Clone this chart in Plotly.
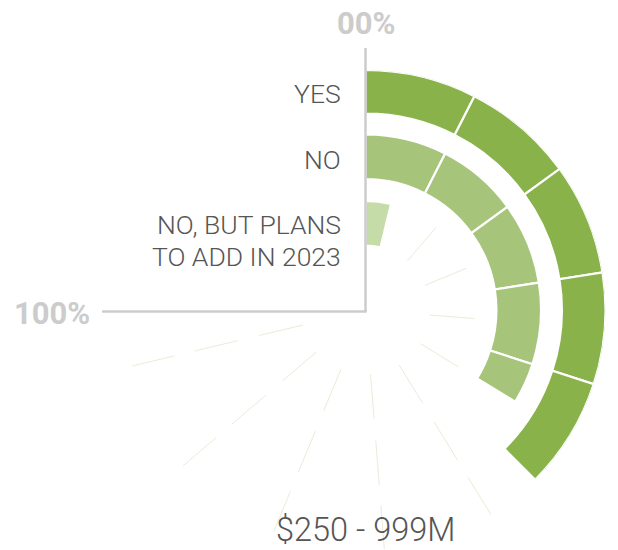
import plotly.graph_objects as go

# ---------------- data ----------------
categories = ["YES", "NO", "NO, BUT PLANS<br>TO ADD IN 2023"]
values = [50, 45, 5]            # percent of respondents
segment_step = 10               # bars are split every 10 %
spoke_ticks = [5, 15, 25, 35, 45, 55, 65, 75, 85, 95]
start_label = "00%"
end_label = "100%"
title_text = "$250 - 999M"

# ---------------- styling ----------------
OFF = 8                         # page body margin
W, H = 618 - OFF, 550 - OFF
SPAN_DEG = 270.0                # 100 % == 270 degrees (clockwise from top)
colors = ["#8ab24b", "#a6c47a", "#c5dba8"]
ring_base = [198, 132, 65]      # inner radius of each ring (radial units)
ring_thick = [44, 45, 45]
R_MAX = 242
CX, CY, RPX = 365.5, 310.0, 240.0   # polar centre and radius, page pixels


def deg(p):
    return p * SPAN_DEG / 100.0


def px_x(x):
    return (x - OFF) / W


def px_y(y):
    return 1 - (y - OFF) / H


fig = go.Figure()

# faint background spokes in each ring (only visible where the ring is empty)
for base, th, v in zip(ring_base, ring_thick, values):
    th_list, r_list = [], []
    for t in spoke_ticks:
        if t <= v:
            continue
        th_list += [deg(t), deg(t), None]
        r_list += [base, base + th, None]
    fig.add_trace(go.Scatterpolar(
        r=r_list, theta=th_list, mode="lines",
        line=dict(color="#ecead8", width=1),
        hoverinfo="skip", showlegend=False, connectgaps=False))

# segmented radial bars
for cat, v, col, base, th in zip(categories, values, colors, ring_base, ring_thick):
    thetas, widths = [], []
    s = 0
    while s < v - 1e-9:
        w = min(segment_step, v - s)
        thetas.append(deg(s + w / 2))
        widths.append(deg(w))
        s += segment_step
    fig.add_trace(go.Barpolar(
        r=[th] * len(thetas), base=[base] * len(thetas),
        theta=thetas, width=widths,
        marker=dict(color=col, line=dict(color="white", width=2.2)),
        name=cat.replace("<br>", " "), showlegend=False,
        hovertemplate=f"{cat.replace('<br>', ' ')}: {v}%<extra></extra>"))

fig.update_layout(
    width=W, height=H,
    margin=dict(l=0, r=0, t=0, b=0),
    paper_bgcolor="white",
    plot_bgcolor="white",
    polar=dict(
        domain=dict(x=[px_x(CX - RPX), px_x(CX + RPX)],
                    y=[max(0, px_y(CY + RPX)), px_y(CY - RPX)]),
        bgcolor="rgba(0,0,0,0)",
        hole=0,
        bargap=0,
        radialaxis=dict(visible=False, range=[0, R_MAX]),
        angularaxis=dict(rotation=90, direction="clockwise",
                         showgrid=False, showticklabels=False,
                         showline=False, ticks=""),
    ),
    font=dict(family="Roboto", color="#555555"),
)

# axis lines (0 % vertical, 100 % horizontal)
fig.add_shape(type="line", xref="paper", yref="paper",
              x0=px_x(CX), x1=px_x(CX), y0=px_y(48), y1=px_y(CY + 1.5),
              line=dict(color="#cccccc", width=2.5))
fig.add_shape(type="line", xref="paper", yref="paper",
              x0=px_x(102), x1=px_x(CX + 1.2), y0=px_y(CY + 1.5), y1=px_y(CY + 1.5),
              line=dict(color="#cccccc", width=2.5))

# category labels (each line placed separately for tight line spacing)
label_y = [[93.5], [159], [224.5, 256.5]]
for cat, ys in zip(categories, label_y):
    for line_text, ly in zip(cat.split("<br>"), ys):
        fig.add_annotation(text=line_text, xref="paper", yref="paper",
                           x=px_x(343), y=px_y(ly), xanchor="right", yanchor="middle",
                           align="right", showarrow=False,
                           font=dict(family="Roboto", size=26.5, color="#555555", weight=300))

fig.add_annotation(text=start_label, xref="paper", yref="paper",
                   x=px_x(366), y=px_y(22.5), xanchor="center", yanchor="middle",
                   showarrow=False, height=30,
                   font=dict(family="Roboto", size=31, color="#cccccc", weight=700))
fig.add_annotation(text=end_label, xref="paper", yref="paper",
                   x=px_x(51.5), y=px_y(313), xanchor="center", yanchor="middle",
                   showarrow=False,
                   font=dict(family="Roboto", size=31, color="#cccccc", weight=700))
fig.add_annotation(text=title_text, xref="paper", yref="paper",
                   x=px_x(365.5), y=px_y(530), xanchor="center", yanchor="middle",
                   showarrow=False,
                   font=dict(family="Roboto", size=32.5, color="#555555", weight=300))

fig.write_html("out.html")
